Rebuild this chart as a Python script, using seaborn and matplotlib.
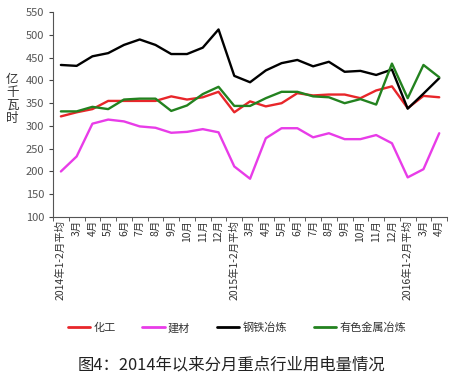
import pandas as pd
import matplotlib
matplotlib.use("Agg")
import matplotlib.pyplot as plt
import seaborn as sns

months = ["2014年1-2月平均", "3月", "4月", "5月", "6月", "7月", "8月", "9月", "10月", "11月", "12月",
          "2015年1-2月平均", "3月", "4月", "5月", "6月", "7月", "8月", "9月", "10月", "11月", "12月",
          "2016年1-2月平均", "3月", "4月"]

chem = [321, 330, 337, 355, 355, 355, 355, 365, 358, 363, 375,
        330, 354, 343, 350, 372, 367, 369, 369, 361, 378, 387,
        339, 366, 363]
building = [200, 233, 305, 314, 310, 299, 296, 285, 287, 293, 286,
            211, 184, 273, 295, 295, 275, 284, 271, 271, 280, 262,
            187, 205, 284]
steel = [434, 432, 453, 460, 478, 490, 478, 458, 458, 472, 512,
         410, 396, 422, 438, 445, 431, 441, 419, 421, 412, 424,
         338, 371, 405]
nonferrous = [332, 332, 342, 337, 358, 360, 360, 333, 345, 370, 386,
              344, 344, 361, 375, 375, 365, 363, 350, 359, 347, 437,
              361, 434, 407]

series = ["化工", "建材", "钢铁冶炼", "有色金属冶炼"]
colors = ["#e8262a", "#e83ce8", "#000000", "#23821f"]

rows = []
for name, vals in zip(series, [chem, building, steel, nonferrous]):
    for i, v in enumerate(vals):
        rows.append({"idx": i, "value": v, "series": name})
df = pd.DataFrame(rows)

sns.set_style("white")
plt.rcParams["font.family"] = ["Noto Sans CJK SC", "DejaVu Sans"]

fig = plt.figure(figsize=(4.53, 3.80), dpi=100)
ax = fig.add_axes([0.117, 0.429, 0.87, 0.539])

sns.lineplot(data=df, x="idx", y="value", hue="series", hue_order=series,
             palette=colors, linewidth=1.7, ax=ax, legend=False)

ax.set_xlim(-0.5, len(months) - 0.5)
ax.set_ylim(100, 550)
ax.set_yticks(range(100, 551, 50))
ax.set_xticks(range(len(months)))
ax.set_xticklabels(months, rotation=90, fontsize=7.5, color="#333333")
ax.tick_params(axis="x", length=0, pad=2)
ax.set_xticks([i - 0.5 for i in range(len(months) + 1)], minor=True)
ax.tick_params(axis="x", which="minor", length=3, direction="out", color="#444444", bottom=True)
ax.tick_params(axis="y", labelsize=8, labelcolor="#555555", length=3, direction="out", left=True, color="#444444")
ax.set_xlabel("")
ax.set_ylabel("")
for s in ["top", "right"]:
    ax.spines[s].set_visible(False)
for s in ["left", "bottom"]:
    ax.spines[s].set_color("#555555")
    ax.spines[s].set_linewidth(0.8)

fig.text(0.027, 0.74, "亿\n千\n瓦\n时", fontsize=9, color="#333333",
         ha="center", va="center", linespacing=1.0)

handles = [plt.Line2D([0], [0], color=c, lw=2) for c in colors]
fig.legend(handles, series, loc="center", bbox_to_anchor=(0.523, 0.137), ncol=4,
           frameon=False, fontsize=8, handlelength=2.0, handletextpad=0.3,
           columnspacing=2.4, labelcolor="#333333")

fig.text(0.512, 0.04, "图4：2014年以来分月重点行业用电量情况", fontsize=11.8,
         ha="center", va="center", color="#222222")

fig.savefig("out.png", dpi=100)
